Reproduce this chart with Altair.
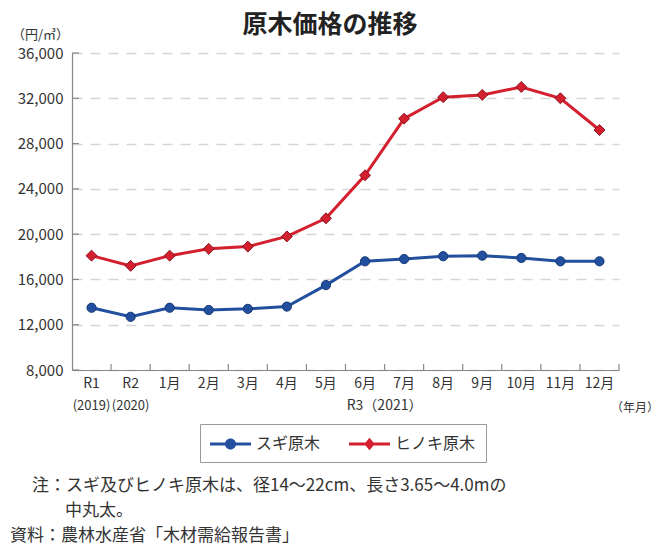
import altair as alt
import pandas as pd

# ---------------- data ----------------
categories = ["R1", "R2", "1月", "2月", "3月", "4月", "5月", "6月",
              "7月", "8月", "9月", "10月", "11月", "12月"]
sugi = [13500, 12700, 13500, 13300, 13400, 13600, 15500, 17600,
        17800, 18050, 18100, 17900, 17600, 17600]
hinoki = [18100, 17200, 18100, 18700, 18900, 19800, 21400, 25200,
          30200, 32100, 32300, 33000, 32000, 29200]
series_names = ["スギ原木", "ヒノキ原木"]
series_colors = ["#22509e", "#d31f2e"]
series_edges = ["#173a75", "#8a1420"]
y_ticks = [8000, 12000, 16000, 20000, 24000, 28000, 32000, 36000]
sub_cats = ["R1", "R2"]
sub_labels = ["(2019)", "(2020)"]
title_text = ["原木価格の推移"]
unit_text = ["（円/㎥）"]
year_text = ["R3（2021）"]
xunit_text = ["（年月）"]
note_line1 = ["注：スギ及びヒノキ原木は、径14〜22cm、長さ3.65〜4.0mの"]
note_line2 = ["中丸太。"]
source_text = ["資料：農林水産省「木材需給報告書」"]

W, H = 547, 317
JP = "Noto Sans CJK JP"

rows = []
for name, vals in zip(series_names, [sugi, hinoki]):
    for c, v in zip(categories, vals):
        rows.append({"month": c, "price": v, "series": name})
df = pd.DataFrame(rows)

xscale = alt.Scale(type="band", domain=categories, paddingInner=0, paddingOuter=0)
yscale = alt.Scale(domain=[8000, 36000], nice=False, zero=False)
cscale = alt.Scale(domain=series_names, range=series_colors)

X = alt.X("month:N", scale=xscale, sort=categories,
          axis=alt.Axis(title=None, ticks=False, grid=False, labelAngle=0,
                        labelFontSize=14, labelFont=JP, labelColor="#333",
                        labelPadding=6, domainColor="#888", domainWidth=1.2))
Y = alt.Y("price:Q", scale=yscale,
          axis=alt.Axis(title=None, values=y_ticks, format=",.0f", ticks=False,
                        labelFontSize=15, labelFont=JP, labelColor="#333",
                        labelPadding=9, domainColor="#888", domainWidth=1.2,
                        grid=True, gridColor="#d6d6d6", gridDash=[10, 8],
                        gridWidth=1.3))

base = alt.Chart(df)

layers = []
shapes = ["circle", "diamond"]
sizes = [85, 120]
for name, col in zip(series_names, series_colors):
    sub = base.transform_filter(alt.datum.series == name)
    layers.append(sub.mark_line(strokeWidth=3, color=col).encode(x=X, y=Y))
for name, col, edge, shp, sz in zip(series_names, series_colors, series_edges, shapes, sizes):
    sub = base.transform_filter(alt.datum.series == name)
    layers.append(sub.mark_point(filled=True, opacity=1, size=sz, shape=shp,
                                 fill=col, stroke=edge, strokeWidth=1).encode(x=X, y=Y))

# legend carrier (no visible marks)
legend_paths = [
    "M-1,-0.14L3.1,-0.14L3.1,0.14L-1,0.14Z M1.6,0A0.55,0.55 0 1,1 0.5,0A0.55,0.55 0 1,1 1.6,0Z",
    "M-1,-0.14L3.1,-0.14L3.1,0.14L-1,0.14Z M1.05,-0.62L1.57,0L1.05,0.62L0.53,0Z",
]
leg = alt.Legend(title=None, orient="none", legendX=128, legendY=371,
                 direction="horizontal", symbolSize=400, symbolStrokeWidth=0,
                 labelOffset=26, labelFont=JP, labelFontSize=16, labelColor="#333",
                 columnPadding=28, padding=10, strokeColor="#999",
                 fillColor="white", cornerRadius=0)
legend_layer = base.transform_filter("false").mark_point(filled=True, opacity=1).encode(
    x=X, y=Y,
    color=alt.Color("series:N", scale=cscale, legend=leg),
    shape=alt.Shape("series:N", scale=alt.Scale(domain=series_names, range=legend_paths),
                    legend=leg),
)

# inward ticks
xt = alt.Chart(pd.DataFrame({"month": categories})).mark_rule(
    color="#888", strokeWidth=1.2
).encode(x=alt.X("month:N", scale=xscale, bandPosition=1), y=alt.value(H), y2=alt.value(H - 6))

yt = alt.Chart(pd.DataFrame({"price": y_ticks})).mark_rule(
    color="#888", strokeWidth=1.2
).encode(y=alt.Y("price:Q", scale=yscale), x=alt.value(0), x2=alt.value(7))

# sub labels under x axis
subs = alt.Chart(pd.DataFrame({"month": sub_cats, "t": sub_labels})).mark_text(
    font=JP, fontSize=13, color="#333", baseline="middle", align="center"
).encode(x=alt.X("month:N", scale=xscale), y=alt.value(353), text="t:N")

year = alt.Chart(pd.DataFrame({"month": ["6月"], "t": year_text})).mark_text(
    font=JP, fontSize=14, color="#333", baseline="middle", align="center"
).encode(x=alt.X("month:N", scale=xscale, bandPosition=1), y=alt.value(353), text="t:N")


def label(texts, x, y, size, align="left", weight="normal", color="#333"):
    return alt.Chart(pd.DataFrame({"t": texts})).mark_text(
        font=JP, fontSize=size, fontWeight=weight, color=color,
        align=align, baseline="middle"
    ).encode(x=alt.value(x), y=alt.value(y), text="t:N")


title = label(title_text, 258, -28, 25, align="center", weight="bold", color="#222")
unit = label(unit_text, -60, -18, 13)
xunit = label(xunit_text, 587, 355, 12, align="right")
n1 = label(note_line1, -40, 433, 17)
n2 = label(note_line2, -7, 458, 17)
src = label(source_text, -62, 483, 17)

chart = alt.layer(
    *layers, legend_layer, xt, yt, subs, year,
    title, unit, xunit, n1, n2, src
).properties(
    width=W, height=H,
    autosize=alt.AutoSizeParams(type="none"),
    padding={"left": 72, "top": 53, "right": 661 - 72 - W, "bottom": 555 - 53 - H},
    background="white",
).configure_view(stroke=None)

chart.save("out.html", embed_options={"renderer": "svg", "actions": False})
